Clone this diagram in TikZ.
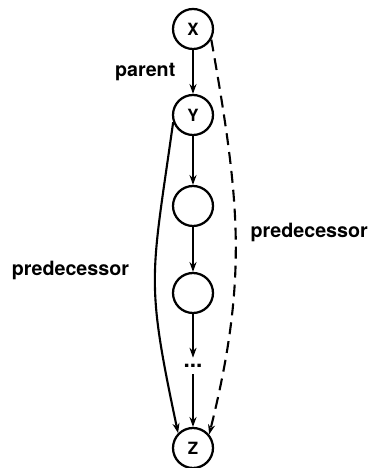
\documentclass[tikz,border=0pt]{standalone}
\usepackage{fontspec}
\setmainfont{TeX Gyre Heros}
\usepackage{tikz}
\usetikzlibrary{arrows.meta}

\tikzset{vert/.style={draw,shape=circle,line width=1.6pt,minimum size=1cm,inner sep=0pt,font=\fontsize{12}{14}\selectfont\bfseries}}
\tikzset{lab/.style={font=\fontsize{14}{16}\selectfont\bfseries}}

\begin{document}
\begin{tikzpicture}[>={Stealth[length=7pt,width=5pt]},line width=1.5pt]
          \useasboundingbox (0,0) rectangle (9.275,11.7);
          \node[vert] (X) at (4.825,10.975) {X};
          \node[vert] (Y) at (4.825,8.825) {Y};
          \node[vert] (A) at (4.825,6.55) {};
          \node[vert] (B) at (4.825,4.375) {};
          \node[lab,inner sep=4pt,font=\fontsize{16}{18}\selectfont\bfseries] (D) at (4.825,2.55) {...};
          \node[vert] (Z) at (4.825,0.5) {Z};
          \draw[->] (X)--(Y);
          \draw[->] (Y)--(A);
          \draw[->] (A)--(B);
          \draw[->] (B)--(D);
          \draw[->] (D)--(Z);
          \draw[->] (Y.200) to[out=262,in=102,looseness=1.3] (Z.135);
          \draw[->,dash pattern=on 8.5pt off 5pt] (X.-30) to[out=-80,in=76,looseness=1.05] (Z.40);
          \node[lab] (Lp) at (3.63,9.9) {parent};
          \node[lab] (Ll) at (1.76,4.95) {predecessor};
          \node[lab] (Lr) at (7.73,5.9) {predecessor};
        \end{tikzpicture}
\end{document}
